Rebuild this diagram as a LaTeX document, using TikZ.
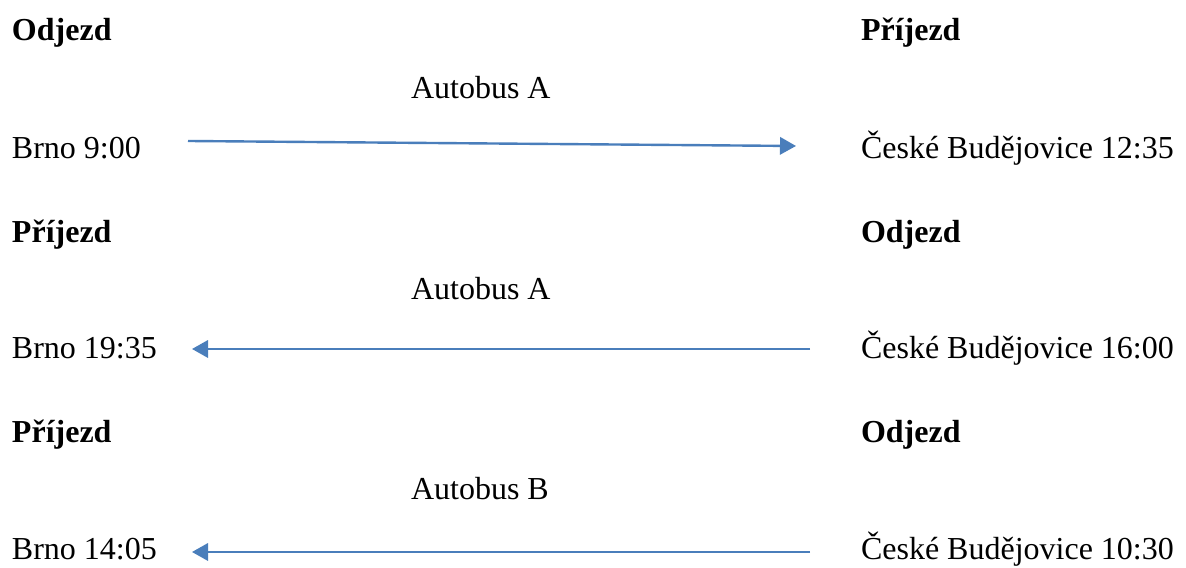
\documentclass[tikz,border=0pt]{standalone}
\usepackage{fontspec}
\setmainfont{Liberation Serif}
\usepackage{tikz}
\usetikzlibrary{arrows.meta}

\definecolor{busblue}{HTML}{4A7EBB}

\begin{document}
\begin{tikzpicture}[x=0.375pt, y=-0.375pt,
        every node/.style={inner sep=0pt, outer sep=0pt, anchor=base west, font=\fontsize{12}{14}\selectfont},
        head/.style={font=\fontsize{12}{14}\selectfont\bfseries},
        route/.style={busblue, line width=0.9pt, -{Triangle[length=6pt, width=6.5pt]}}]
        \useasboundingbox (0,0) rectangle (1186,568);

        % Row 1
        \node[head] (dep1) at (12,41) {Odjezd};
        \node[head] (arr1) at (861,41) {Příjezd};
        \node (bus1) at (411,99) {Autobus A};
        \node (brno1) at (12,159) {Brno 9:00};
        \node (cb1) at (861,159) {České Budějovice 12:35};

        % Row 2
        \node[head] (arr2) at (12,243) {Příjezd};
        \node[head] (dep2) at (861,243) {Odjezd};
        \node (bus2) at (411,300) {Autobus A};
        \node (brno2) at (12,359) {Brno 19:35};
        \node (cb2) at (861,359) {České Budějovice 16:00};

        % Row 3
        \node[head] (arr3) at (12,443) {Příjezd};
        \node[head] (dep3) at (861,443) {Odjezd};
        \node (bus3) at (411,500) {Autobus B};
        \node (brno3) at (12,560) {Brno 14:05};
        \node (cb3) at (861,560) {České Budějovice 10:30};

        % Arrow ends
        \coordinate (s1) at (188,141);
        \coordinate (e1) at (796,146);
        \coordinate (s2) at (810,349);
        \coordinate (e2) at (192,349);
        \coordinate (s3) at (810,552);
        \coordinate (e3) at (192,552);

        % Edges
        \draw[route] (s1) -- (e1);
        \draw[route] (s2) -- (e2);
        \draw[route] (s3) -- (e3);
    \end{tikzpicture}
\end{document}
